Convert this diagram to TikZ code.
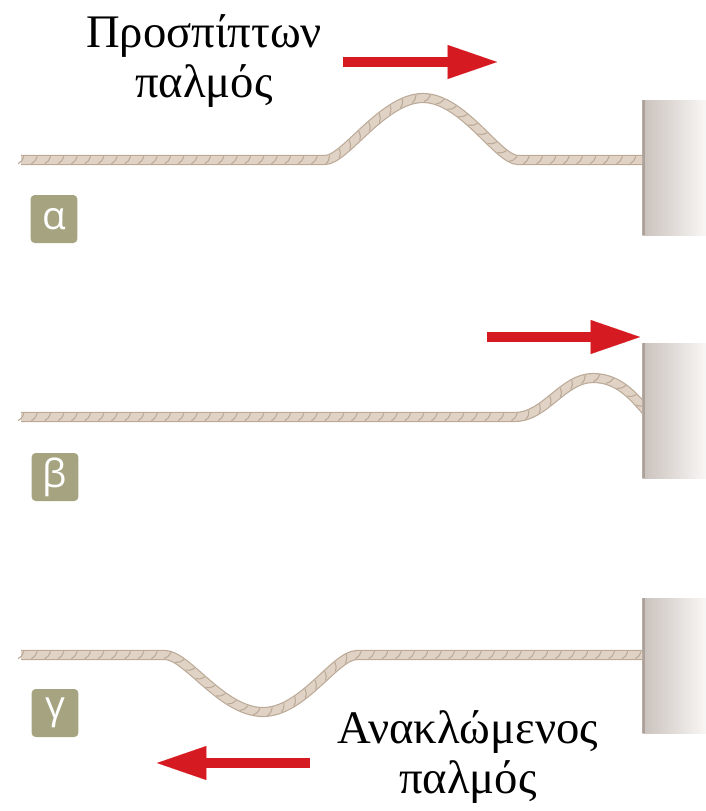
\documentclass[tikz,border=0pt]{standalone}
\usepackage{fontspec}
\setmainfont{Liberation Serif}
\newfontfamily\tagfont{Open Sans}
\usepackage{tikz}
\usetikzlibrary{arrows.meta, decorations.markings, backgrounds}
\definecolor{ropelight}{RGB}{224,211,197}
\definecolor{ropeedge}{RGB}{188,170,153}
\definecolor{pulsered}{RGB}{214,26,33}
\definecolor{tagolive}{RGB}{166,164,128}
\definecolor{wallshade}{RGB}{201,193,188}
\definecolor{walllight}{RGB}{249,247,245}
\definecolor{walledge}{RGB}{172,162,154}
\tikzset{
  rope/.style={
    draw=ropeedge, line width=7.6pt,
    postaction={draw=ropelight, line width=5.8pt},
    postaction={decorate, decoration={markings,
      mark=between positions 0 and 1 step 10pt with
        {\draw[ropeedge, line width=0.8pt] (-2.2pt,-2.8pt) .. controls (0.4pt,-1.2pt) .. (2.2pt,2.8pt);}}}
  },
  wall/.style={
    rectangle, inner sep=0pt, anchor=north west,
    minimum width=48pt, minimum height=101.25pt,
    left color=wallshade, right color=walllight,
    path picture={\fill[walledge] (path picture bounding box.north west)
      rectangle ([xshift=2pt]path picture bounding box.south west);}
  },
  tag/.style={
    rectangle, rounded corners=3pt, fill=tagolive, text=white,
    minimum width=35pt, minimum height=36pt, inner sep=0pt,
    font=\tagfont\fontsize{29}{29}\selectfont
  },
  caption/.style={align=center, inner sep=0pt, font=\fontsize{35}{37.5}\selectfont},
  pulsearrow/.style={draw=pulsered, line width=7.5pt,
    -{Triangle[length=37pt, width=25.5pt, line width=0.01pt]}}
}

\begin{document}
\begin{tikzpicture}[x=0.75pt, y=-0.75pt]
\useasboundingbox (0,0) rectangle (706,811);
% Panel alpha
\node[wall] (wallA) at (642,100) {};
\coordinate (ropeA) at (21,160);
\begin{scope}[on background layer]
\draw[rope] (ropeA) -- (325,160) .. controls (345,160) and (383,98) .. (423,98)
  .. controls (463,98) and (498,160) .. (518,160) -- (ropeA -| wallA.west);
\end{scope}
\node[tag] (tagA) at (54,219) {α};
\node[caption] (incident) at (204,61) {Προσπίπτων\\παλμός};
\draw[pulsearrow] (343,62) -- (497,62);
% Panel beta
\node[wall] (wallB) at (642,343) {};
\coordinate (ropeB) at (21,417);
\begin{scope}[on background layer]
\draw[rope] (ropeB) -- (515,417) .. controls (545,417) and (563,378) .. (593,378)
  .. controls (617,378) and (632,394) .. (647,412);
\end{scope}
\node[tag] (tagB) at (55,477) {β};
\draw[pulsearrow] (487,337) -- (640,337);
% Panel gamma
\node[wall] (wallC) at (642,598) {};
\coordinate (ropeC) at (21,655);
\begin{scope}[on background layer]
\draw[rope] (ropeC) -- (165,655) .. controls (187,655) and (222,712) .. (263,712)
  .. controls (303,712) and (335,655) .. (357,655) -- (ropeC -| wallC.west);
\end{scope}
\node[tag] (tagC) at (55,713) {γ};
\node[caption] (reflected) at (468,757) {Ανακλώμενος\\παλμός};
\draw[pulsearrow] (310,763) -- (157,763);
\end{tikzpicture}
\end{document}
